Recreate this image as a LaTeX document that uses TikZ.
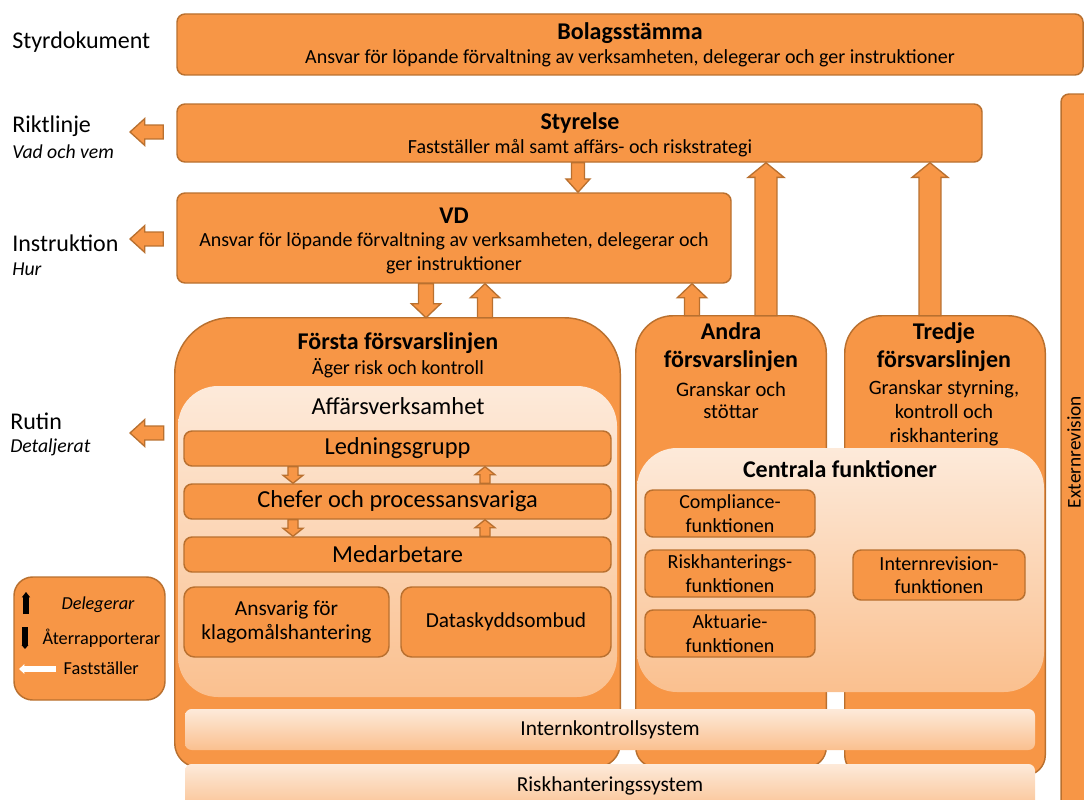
\documentclass[tikz,border=0pt]{standalone}
\usepackage{fontspec}
\setmainfont{Carlito}
\usetikzlibrary{calc,fit,positioning,arrows.meta}

\definecolor{orng}{HTML}{F79646}
\definecolor{edge}{HTML}{B9702F}
\definecolor{pale}{HTML}{FDEADA}
\definecolor{peach}{HTML}{FAC08F}

\tikzset{
  box/.style   = {draw=edge, fill=orng, line width=1.1pt, rounded corners=6pt, inner sep=0pt},
  panel/.style = {draw=edge, fill=orng, line width=1.1pt},
  glow/.style  = {top color=pale, bottom color=peach, inner sep=0pt},
  area/.style  = {inner sep=0pt},
  head/.style  = {font=\fontsize{18}{21}\selectfont\bfseries, align=center},
  sub/.style   = {font=\fontsize{15}{18}\selectfont, align=center},
  big/.style   = {font=\fontsize{18.3}{21}\selectfont},
  small/.style = {font=\fontsize{15}{17.5}\selectfont, align=center},
  note/.style  = {font=\fontsize{13.7}{16}\selectfont},
  lbl/.style   = {anchor=west, inner sep=0pt, font=\fontsize{18}{21}\selectfont},
  ilbl/.style  = {anchor=west, inner sep=0pt, font=\fontsize{14.8}{17}\selectfont\itshape},
  blk/.style n args = {3}{draw=edge, fill=orng, line width=1pt, to path={
      let \p1=(\tikztostart), \p2=(\tikztotarget),
          \n1={atan2(\y2-\y1,\x2-\x1)} in
      ($(\p1)+({\n1+90}:#1)$) -- ($(\p2)+({\n1+180}:#3)+({\n1+90}:#1)$)
      -- ($(\p2)+({\n1+180}:#3)+({\n1+90}:#2)$) -- (\p2)
      -- ($(\p2)+({\n1+180}:#3)+({\n1-90}:#2)$)
      -- ($(\p2)+({\n1+180}:#3)+({\n1-90}:#1)$)
      -- ($(\p1)+({\n1-90}:#1)$) -- cycle}},
}

\begin{document}
\begin{tikzpicture}[x=0.75pt, y=-0.75pt]
  \useasboundingbox (0,0) rectangle (1084,799);

  % levels of documents
  \node[lbl] (styrdok) at (12,42) {Styrdokument};
  \node[lbl] (riktl) at (12,126) {Riktlinje};
  \node[ilbl] (vadvem) at (12,152) {Vad och vem};
  \node[lbl] (instr) at (12,243) {Instruktion};
  \node[ilbl] (hur) at (12,269) {Hur};
  \node[lbl] (rutin) at (10,421) {Rutin};
  \node[ilbl] (detalj) at (10,447) {Detaljerat};

  % top of the organisation
  \node[box, fit={(177,14)(1083,75)}] (bolag) {};
  \node[head] (bolagT) at (630,33) {Bolagsstämma};
  \node[sub] (bolagS) at (630,58) {Ansvar för löpande förvaltning av verksamheten, delegerar och ger instruktioner};
  \node[box, fit={(177,104)(982,162)}] (styr) {};
  \node[head] (styrT) at (580,123) {Styrelse};
  \node[sub] (styrS) at (580,148) {Fastställer mål samt affärs- och riskstrategi};
  \node[box, fit={(177,193)(731,283)}] (vd) {};
  \node[head] (vdT) at (454,216) {VD};
  \node[sub] (vdS) at (454,253) {Ansvar för löpande förvaltning av verksamheten, delegerar och\\ger instruktioner};
  \node[box, fit={(1061,94)(1100,815)}] (ext) {};
  \node[sub, rotate=90, inner sep=0pt, font=\fontsize{14.5}{16}\selectfont] (extT) at (1074,452) {Externrevision};

  % the three lines of defence
  \node[area, fit={(175,318)(620,767)}] (forsta) {};
  \node[area, fit={(636,316)(826,767)}] (andra) {};
  \node[area, fit={(845,316)(1045,775)}] (tredje) {};
  \draw[panel] (forsta.west) [rounded corners=42pt] -- (forsta.north west) -- (forsta.north east)
    -- (forsta.east) [rounded corners=18pt] -- (forsta.south east) -- (forsta.south west) -- cycle;
  \draw[panel] (andra.west) [rounded corners=28pt] -- (andra.north west) -- (andra.north east)
    -- (andra.east) [rounded corners=15pt] -- (andra.south east) -- (andra.south west) -- cycle;
  \draw[panel] (tredje.west) [rounded corners=28pt] -- (tredje.north west) -- (tredje.north east)
    -- (tredje.east) [rounded corners=15pt] -- (tredje.south east) -- (tredje.south west) -- cycle;
  \node[head] (forstaT) at (398,343) {Första försvarslinjen};
  \node[sub] (forstaS) at (398,368) {Äger risk och kontroll};
  \node[head] (andraT) at (731,347) {Andra\\försvarslinjen};
  \node[sub, font=\fontsize{15.5}{16.5}\selectfont] (andraS) at (731,400) {Granskar och\\stöttar};
  \node[head] (tredjeT) at (944,347) {Tredje\\försvarslinjen};
  \node[sub, font=\fontsize{15.3}{18}\selectfont] (tredjeS) at (944,413) {Granskar styrning,\\kontroll och\\riskhantering};

  % first line
  \node[glow, rounded corners=30pt, fit={(178,386)(617,697)}] (affar) {};
  \node[big] (affarT) at (398,406) {Affärsverksamhet};
  \node[box, fit={(184,431)(611,466)}] (ledn) {};
  \node[big] (lednT) at (ledn) {Ledningsgrupp};
  \node[box, fit={(184,484)(611,519)}] (chef) {};
  \node[big] (chefT) at (chef) {Chefer och processansvariga};
  \node[box, fit={(184,537)(611,572)}] (medarb) {};
  \node[big] (medarbT) at (medarb) {Medarbetare};
  \node[box, rounded corners=8pt, fit={(184,587)(389,657)}] (ansv) {};
  \node[small, font=\fontsize{16}{18}\selectfont] (ansvT) at (ansv) {Ansvarig för\\klagomålshantering};
  \node[box, rounded corners=8pt, fit={(401,587)(611,657)}] (dsk) {};
  \node[small, font=\fontsize{16}{18}\selectfont] (dskT) at (dsk) {Dataskyddsombud};

  % central functions
  \node[glow, rounded corners=30pt, fit={(637,448)(1044,692)}] (centr) {};
  \node[head] (centrT) at (840,469) {Centrala funktioner};
  \node[box, fit={(645,490)(815,537)}] (compl) {};
  \node[small] (complT) at (compl) {Compliance-\\funktionen};
  \node[box, fit={(645,550)(815,597)}] (riskf) {};
  \node[small] (riskfT) at (riskf) {Riskhanterings-\\funktionen};
  \node[box, fit={(645,610)(815,657)}] (aktu) {};
  \node[small] (aktuT) at (aktu) {Aktuarie-\\funktionen};
  \node[box, fit={(853,550)(1025,600)}] (intrev) {};
  \node[small] (intrevT) at (intrev) {Internrevision-\\funktionen};

  % systems
  \node[glow, rounded corners=5pt, fit={(185,709)(1035,750)}] (ikon) {};
  \node[sub, font=\fontsize{16}{18}\selectfont] (ikonT) at (ikon) {Internkontrollsystem};
  \node[glow, rounded corners=5pt, fit={(185,764)(1035,812)}] (rhs) {};
  \node[sub, font=\fontsize{16}{18}\selectfont] (rhsT) at (610,786) {Riskhanteringssystem};

  % legend
  \node[box, rounded corners=14pt, fit={(14,577)(165,700)}] (legend) {};
  \coordinate (delA) at (26,614); \coordinate (delB) at (26,592);
  \coordinate (ateA) at (25,627); \coordinate (ateB) at (25,649);
  \coordinate (fasA) at (56,669); \coordinate (fasB) at (19,669);
  \draw[line width=4pt, -{Triangle[length=4pt,width=6pt]}] (delA) -- (delB);
  \draw[line width=4.5pt, -{Triangle[length=3pt,width=5pt]}] (ateA) -- (ateB);
  \draw[white, line width=4pt, -{Triangle[length=4pt,width=7pt]}] (fasA) -- (fasB);
  \node[note, font=\fontsize{13.7}{16}\selectfont\itshape] (delT) at (98,605) {Delegerar};
  \node[note, anchor=west] (ateT) at (38,638) {Återrapporterar};
  \node[note, anchor=west] (fasT) at (59,668) {Fastställer};

  % block arrows
  \coordinate (riktP) at (130,132);
  \coordinate (instrP) at (130,239);
  \coordinate (rutinP) at (130,433);
  \draw[blk={5.2pt}{10pt}{11pt}] ($(styr.west |- riktP)+(-13,0)$) to (riktP);
  \draw[blk={5.2pt}{10pt}{11pt}] ($(vd.west |- instrP)+(-13,0)$) to (instrP);
  \draw[blk={5.2pt}{10pt}{11pt}] ($(forsta.west |- rutinP)+(-11,0)$) to (rutinP);
  \draw[blk={4.9pt}{9pt}{10pt}] (styr.south -| 578,0) to (vd.north -| 578,0);
  \draw[blk={5.6pt}{11pt}{10.5pt}] (vd.south -| 426,0) to (forsta.north -| 426,0);
  \draw[blk={5.6pt}{11pt}{10.5pt}] (forsta.north -| 485,0) to (vd.south -| 485,0);
  \draw[blk={5.6pt}{11pt}{10.5pt}] (andra.north -| 692,0) to (vd.south -| 692,0);
  \draw[blk={8.2pt}{13.5pt}{11pt}] (andra.north -| 766,0) to (styr.south -| 766,0);
  \draw[blk={8.2pt}{13.5pt}{11pt}] (tredje.north -| 930,0) to (styr.south -| 930,0);
  \draw[blk={3.8pt}{7.5pt}{6pt}] (ledn.south -| 293,0) to (chef.north -| 293,0);
  \draw[blk={3.8pt}{7.5pt}{6pt}] (chef.north -| 485,0) to (ledn.south -| 485,0);
  \draw[blk={3.8pt}{7.5pt}{6pt}] (chef.south -| 293,0) to (medarb.north -| 293,0);
  \draw[blk={3.8pt}{7.5pt}{6pt}] (medarb.north -| 485,0) to (chef.south -| 485,0);
\end{tikzpicture}
\end{document}
